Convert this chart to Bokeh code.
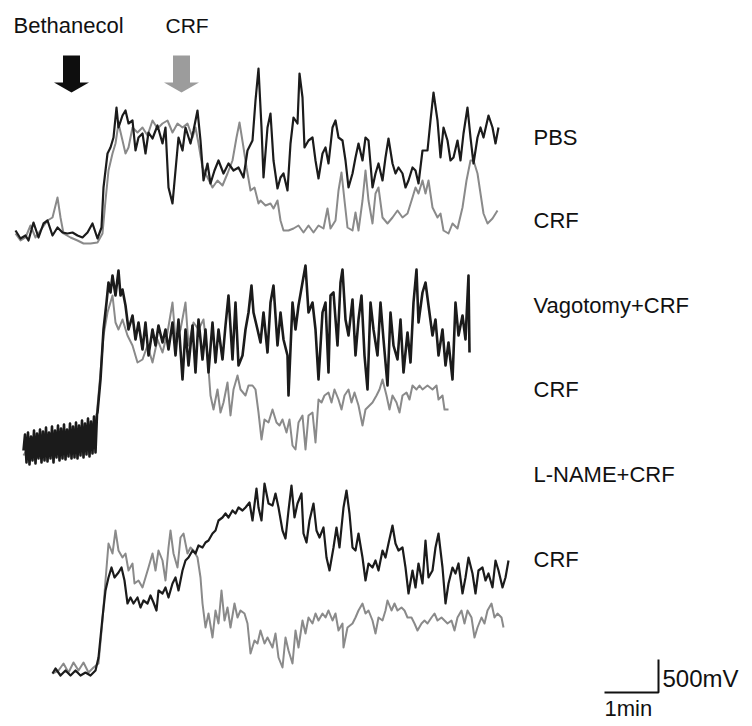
import numpy as np
from bokeh.plotting import figure
from bokeh.models import Range1d
from bokeh.embed import file_html
from bokeh.resources import INLINE
from bokeh.core.properties import value

# ---------------- data ----------------
# time in display units (54 units = 1 min), amplitude in display units (33 units = 500 mV)
SCALE_T_UNITS = 54   # 1 min
SCALE_V_UNITS = 33   # 500 mV

# Panel 1: PBS (black) vs CRF (gray)
P1_BLACK_T = [0, 5, 10, 13, 18, 23, 28, 32, 37, 42, 47, 52, 57, 62, 67, 72, 77, 82, 86, 88, 92, 95, 98, 101, 103, 107, 110, 113, 117, 120, 123, 127, 130, 133, 137, 142, 147, 150, 153, 157, 160, 163, 167, 170, 175, 178, 182, 185, 188, 192, 195, 199, 203, 208, 213, 218, 223, 228, 232, 237, 240, 243, 246, 248, 252, 255, 258, 262, 265, 268, 272, 275, 278, 282, 284, 287, 289, 293, 297, 300, 303, 307, 310, 313, 317, 320, 323, 327, 330, 333, 337, 340, 343, 347, 350, 353, 357, 360, 363, 367, 370, 373, 377, 380, 383, 387, 390, 393, 397, 400, 403, 407, 412, 415, 418, 422, 425, 428, 432, 435, 438, 442, 445, 448, 452, 455, 458, 462, 465, 468, 473, 477, 480, 483]
P1_BLACK_V = [15, 7, 10, 5, 23, 8, 22, 25, 10, 18, 13, 12, 13, 10, 8, 13, 22, 7, 18, 58, 92, 98, 108, 138, 118, 130, 135, 122, 125, 95, 108, 112, 92, 113, 107, 120, 102, 118, 58, 42, 75, 108, 95, 118, 102, 115, 135, 105, 65, 82, 62, 75, 85, 72, 82, 75, 78, 68, 95, 105, 145, 177, 118, 68, 118, 132, 85, 57, 68, 72, 55, 102, 128, 122, 172, 148, 98, 105, 108, 85, 67, 92, 98, 82, 118, 125, 108, 105, 85, 58, 72, 88, 102, 85, 108, 105, 58, 72, 82, 65, 88, 107, 82, 72, 78, 72, 58, 65, 78, 75, 62, 95, 95, 125, 153, 125, 88, 118, 105, 85, 88, 105, 85, 112, 138, 108, 82, 108, 118, 108, 130, 118, 102, 118]
P1_GRAY_T = [0, 5, 10, 15, 20, 27, 32, 37, 42, 45, 48, 55, 62, 68, 75, 82, 87, 90, 93, 97, 100, 103, 107, 110, 113, 117, 122, 127, 132, 137, 142, 147, 152, 157, 162, 167, 172, 177, 180, 183, 187, 192, 197, 202, 207, 212, 217, 221, 224, 228, 231, 235, 239, 243, 245, 250, 255, 258, 262, 265, 268, 273, 278, 283, 288, 293, 298, 303, 308, 312, 315, 320, 323, 326, 329, 332, 337, 340, 343, 347, 350, 353, 357, 360, 363, 367, 372, 377, 382, 387, 392, 397, 400, 403, 407, 410, 413, 417, 422, 425, 428, 433, 437, 442, 447, 451, 455, 458, 462, 465, 468, 472, 477, 482]
P1_GRAY_V = [12, 5, 8, 20, 8, 18, 25, 28, 48, 28, 12, 8, 5, 2, 2, 3, 12, 45, 75, 92, 102, 122, 105, 92, 98, 118, 113, 118, 110, 125, 117, 122, 125, 113, 122, 118, 122, 108, 118, 102, 78, 68, 58, 65, 60, 72, 85, 108, 123, 98, 78, 55, 58, 42, 45, 40, 42, 37, 45, 25, 15, 15, 17, 20, 13, 20, 13, 20, 17, 37, 17, 25, 55, 73, 45, 18, 15, 33, 15, 45, 75, 45, 22, 52, 58, 28, 22, 28, 35, 28, 32, 48, 58, 52, 65, 52, 65, 38, 28, 32, 15, 12, 22, 17, 38, 65, 85, 85, 72, 52, 32, 22, 27, 35]

# Panel 2: Vagotomy+CRF (black) vs CRF (gray)
P2_BLACK_BASE_DT = 1.5
P2_BLACK_BASE_V = [20, 36, 8, 38, 6, 34, 10, 40, 7, 37, 12, 41, 8, 39, 10, 43, 9, 38, 12, 44, 8, 40, 13, 45, 10, 42, 12, 46, 11, 41, 14, 47, 12, 44, 13, 48, 12, 45, 15, 50, 13, 47, 16, 52, 14, 49, 17, 54, 18, 56]
P2_BLACK_T = [74, 77, 80, 83, 85, 87, 89, 92, 95, 97, 99, 102, 105, 109, 112, 115, 119, 122, 125, 129, 132, 135, 139, 142, 145, 149, 152, 155, 159, 162, 165, 169, 172, 175, 179, 182, 185, 189, 192, 195, 199, 202, 205, 209, 212, 215, 219, 222, 225, 228, 230, 234, 237, 240, 244, 247, 250, 254, 257, 260, 264, 265, 269, 272, 275, 279, 282, 285, 289, 292, 295, 299, 302, 305, 307, 310, 314, 317, 319, 322, 325, 329, 332, 335, 338, 341, 344, 347, 350, 354, 357, 360, 364, 367, 370, 374, 377, 380, 384, 387, 390, 393, 395, 399, 402, 405, 409, 412, 415, 419, 422, 425, 429, 432, 435, 439, 442, 445, 446]
P2_BLACK_V = [58, 91, 141, 168, 188, 178, 195, 175, 200, 175, 181, 165, 141, 155, 131, 148, 121, 148, 115, 141, 125, 145, 128, 141, 121, 148, 115, 151, 91, 141, 105, 145, 98, 151, 111, 141, 98, 148, 108, 141, 111, 145, 175, 111, 168, 105, 115, 141, 158, 185, 158, 141, 128, 158, 118, 168, 185, 125, 158, 131, 115, 75, 168, 141, 165, 188, 205, 158, 168, 141, 91, 158, 168, 98, 175, 178, 125, 188, 201, 151, 135, 171, 115, 151, 175, 115, 81, 168, 141, 115, 168, 131, 85, 158, 125, 111, 151, 98, 138, 108, 168, 201, 148, 178, 188, 165, 135, 151, 115, 141, 105, 128, 91, 168, 135, 155, 131, 195, 118]
P2_GRAY_T = [0, 6, 12, 18, 24, 30, 36, 42, 48, 54, 60, 66, 72, 77, 80, 84, 89, 92, 95, 99, 104, 109, 114, 119, 124, 129, 134, 139, 144, 149, 152, 157, 162, 165, 170, 175, 180, 184, 187, 190, 194, 197, 200, 204, 207, 210, 214, 217, 222, 225, 229, 232, 235, 238, 241, 245, 249, 253, 256, 259, 263, 266, 269, 272, 275, 279, 282, 285, 289, 292, 295, 298, 301, 305, 308, 311, 315, 318, 321, 325, 328, 331, 335, 339, 342, 346, 349, 353, 356, 359, 363, 366, 369, 373, 376, 379, 383, 386, 389, 393, 396, 399, 404, 409, 413, 415, 419, 421, 425]
P2_GRAY_V = [15, 25, 12, 28, 14, 26, 16, 30, 18, 32, 20, 35, 42, 98, 135, 158, 175, 148, 141, 151, 135, 125, 108, 111, 125, 108, 131, 118, 138, 168, 131, 141, 168, 125, 148, 141, 151, 115, 75, 61, 81, 58, 68, 88, 55, 81, 95, 81, 75, 85, 85, 81, 58, 31, 51, 48, 61, 48, 45, 51, 38, 51, 25, 21, 48, 55, 21, 55, 58, 28, 71, 68, 75, 78, 68, 81, 71, 61, 75, 81, 68, 78, 65, 45, 61, 65, 68, 75, 81, 91, 75, 61, 75, 68, 58, 75, 78, 71, 85, 81, 85, 81, 85, 81, 85, 71, 75, 61, 61]

# Panel 3: L-NAME+CRF (black) vs CRF (gray)
P3_BLACK_T = [0, 3, 8, 13, 18, 23, 28, 33, 38, 43, 46, 50, 53, 56, 59, 62, 66, 69, 72, 75, 78, 81, 85, 88, 91, 95, 98, 101, 104, 106, 110, 113, 116, 120, 123, 126, 130, 133, 136, 140, 143, 146, 150, 153, 156, 160, 163, 166, 170, 173, 176, 180, 183, 186, 190, 193, 197, 200, 204, 206, 209, 212, 216, 220, 223, 226, 230, 233, 236, 239, 242, 245, 249, 251, 254, 257, 261, 264, 267, 271, 274, 277, 281, 284, 287, 291, 294, 297, 300, 303, 306, 310, 313, 316, 320, 323, 326, 330, 333, 336, 340, 343, 346, 350, 353, 356, 360, 363, 366, 370, 373, 376, 380, 383, 386, 390, 393, 396, 400, 403, 406, 410, 413, 416, 420, 423, 426, 430, 433, 436, 440, 443, 446, 450, 453, 456]
P3_BLACK_V = [12, 17, 10, 15, 10, 15, 10, 13, 10, 15, 28, 68, 95, 108, 118, 108, 113, 118, 105, 82, 88, 82, 88, 78, 85, 82, 90, 83, 75, 95, 92, 98, 88, 102, 108, 95, 115, 125, 128, 135, 132, 140, 138, 143, 145, 152, 155, 165, 168, 172, 168, 175, 172, 178, 175, 178, 183, 165, 197, 178, 165, 202, 182, 180, 192, 178, 155, 147, 175, 200, 168, 182, 192, 152, 143, 165, 182, 155, 148, 158, 128, 115, 138, 158, 138, 178, 195, 172, 138, 135, 152, 128, 105, 122, 118, 125, 115, 135, 128, 142, 160, 142, 135, 138, 118, 92, 115, 98, 122, 102, 145, 108, 115, 138, 152, 118, 82, 102, 118, 112, 122, 92, 108, 128, 112, 92, 115, 118, 105, 112, 98, 125, 115, 98, 108, 125]
P3_GRAY_T = [0, 6, 11, 16, 21, 26, 31, 36, 41, 46, 50, 53, 56, 60, 63, 66, 70, 73, 76, 80, 82, 86, 90, 93, 96, 100, 103, 106, 110, 113, 116, 118, 121, 125, 128, 131, 135, 138, 141, 145, 148, 150, 153, 156, 160, 163, 166, 169, 172, 175, 178, 182, 185, 188, 192, 195, 198, 202, 205, 208, 212, 215, 220, 223, 226, 230, 233, 236, 240, 243, 246, 250, 253, 256, 260, 263, 266, 270, 273, 276, 280, 283, 286, 290, 291, 295, 300, 303, 306, 310, 313, 316, 320, 323, 326, 330, 333, 335, 339, 342, 345, 349, 352, 355, 359, 362, 365, 369, 372, 375, 379, 382, 385, 389, 392, 395, 399, 402, 405, 409, 412, 415, 419, 422, 425, 429, 432, 435, 439, 442, 445, 449, 451]
P3_GRAY_V = [12, 15, 22, 13, 23, 15, 23, 13, 18, 22, 65, 105, 142, 132, 155, 135, 128, 132, 115, 122, 102, 105, 98, 108, 118, 132, 115, 135, 125, 105, 138, 155, 132, 118, 148, 152, 132, 138, 135, 128, 108, 82, 58, 72, 48, 75, 62, 95, 65, 78, 58, 82, 68, 75, 72, 62, 32, 45, 42, 55, 42, 48, 38, 52, 28, 18, 48, 35, 22, 55, 38, 65, 52, 68, 62, 72, 65, 72, 68, 75, 65, 72, 55, 62, 38, 58, 62, 68, 75, 82, 72, 75, 65, 52, 68, 65, 75, 85, 75, 82, 75, 78, 75, 68, 68, 62, 55, 62, 65, 62, 68, 72, 65, 68, 65, 62, 65, 55, 68, 75, 62, 75, 68, 48, 58, 68, 62, 75, 82, 68, 72, 68, 58]

# drug application times (panel-1 time axis)
EVENTS = ["Bethanecol", "CRF"]
EVENT_T = [56, 166]

TRACE_LABELS = ["PBS", "CRF", "Vagotomy+CRF", "CRF", "L-NAME+CRF", "CRF"]

# ---------------- layout / style ----------------
W, H = 750, 724
BLACK = "#1b1b1b"
GRAY = "#8a8a8a"
FONT = "Liberation Sans"
TXT = "#111111"

p = figure(width=W, height=H, x_range=Range1d(0, W), y_range=Range1d(0, H),
           output_backend="svg", toolbar_location=None, min_border=0,
           x_axis_type=None, y_axis_type=None)
p.grid.visible = False
p.outline_line_color = None
p.background_fill_color = "white"
p.border_fill_color = "white"

# panel origins (x0, y0) in canvas units
ORIGINS = [(15, 479), (23, 254), (52, 39)]

p2_black_t = list(np.arange(len(P2_BLACK_BASE_V)) * P2_BLACK_BASE_DT) + P2_BLACK_T
p2_black_v = P2_BLACK_BASE_V + P2_BLACK_V

panels = [
    ((P1_GRAY_T, P1_GRAY_V), (P1_BLACK_T, P1_BLACK_V), 2.2),
    ((P2_GRAY_T, P2_GRAY_V), (p2_black_t, p2_black_v), 2.6),
    ((P3_GRAY_T, P3_GRAY_V), (P3_BLACK_T, P3_BLACK_V), 2.2),
]
for (x0, y0), (gray, black, bw) in zip(ORIGINS, panels):
    gx = np.array(gray[0], float) + x0
    gy = np.array(gray[1], float) + y0
    bx = np.array(black[0], float) + x0
    by = np.array(black[1], float) + y0
    p.line(gx, gy, line_color=GRAY, line_width=2.0, line_join="round")
    p.line(bx, by, line_color=BLACK, line_width=bw, line_join="round")

# arrows for drug application
ARROW_COLORS = ["#0e0e0e", "#9c9c9c"]
TIP_Y, HEAD_Y, TOP_Y = 632, 642, 669
SHAFT_HW, HEAD_HW = 8.5, 17.5
xs, ys = [], []
for t in EVENT_T:
    cx = ORIGINS[0][0] + t
    xs.append([cx - SHAFT_HW, cx + SHAFT_HW, cx + SHAFT_HW, cx + HEAD_HW, cx, cx - HEAD_HW, cx - SHAFT_HW])
    ys.append([TOP_Y, TOP_Y, HEAD_Y, HEAD_Y, TIP_Y, HEAD_Y, HEAD_Y])
p.patches(xs, ys, fill_color=ARROW_COLORS, line_color=None)

# top labels
p.text(x=[13], y=[699], text=EVENTS[:1], text_font=value(FONT),
       text_font_size=value("22px"), text_color=TXT, text_baseline="alphabetic")
p.text(x=[165], y=[699], text=EVENTS[1:], text_font=value(FONT),
       text_font_size=value("21px"), text_color=TXT, text_baseline="alphabetic")

# right labels
p.text(x=[533] * 6, y=[587, 504, 419, 335, 250, 165], text=TRACE_LABELS,
       text_font=value(FONT), text_font_size=value("22px"), text_color=TXT,
       text_baseline="alphabetic")

# scale bar
SB_X1, SB_Y = 658, 32
p.line([SB_X1 - SCALE_T_UNITS, SB_X1, SB_X1], [SB_Y, SB_Y, SB_Y + SCALE_V_UNITS],
       line_color=TXT, line_width=2)
p.text(x=[SB_X1 + 4], y=[46], text=["500mV"], text_font=value(FONT),
       text_font_size=value("24px"), text_color=TXT, text_baseline="alphabetic")
p.text(x=[SB_X1 - SCALE_T_UNITS], y=[16], text=["1min"], text_font=value(FONT),
       text_font_size=value("22px"), text_color=TXT, text_baseline="alphabetic")

open("out.html", "w").write(file_html(p, INLINE))
